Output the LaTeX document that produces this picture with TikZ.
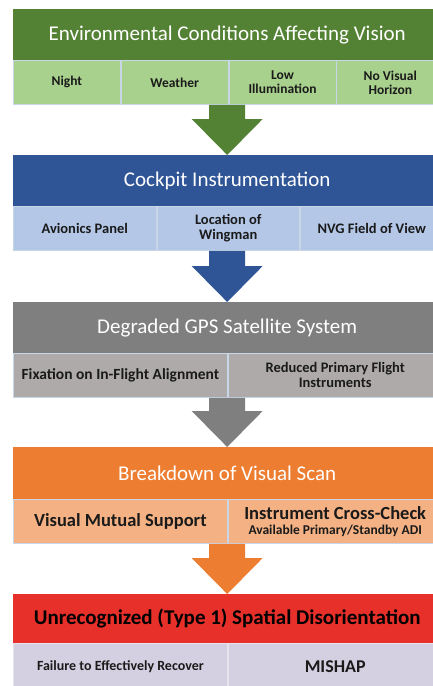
\documentclass[tikz,border=0pt]{standalone}
\usepackage{fontspec}
\setmainfont{Carlito}
\usetikzlibrary{calc}
\definecolor{gD}{HTML}{548235}
\definecolor{gL}{HTML}{A9D18E}
\definecolor{bD}{HTML}{2F5597}
\definecolor{bL}{HTML}{B4C7E7}
\definecolor{yD}{HTML}{7F7F7F}
\definecolor{yL}{HTML}{AEAAAA}
\definecolor{oD}{HTML}{ED7D31}
\definecolor{oL}{HTML}{F4B183}
\definecolor{rD}{HTML}{E8302A}
\definecolor{rL}{HTML}{D5D0E1}
\definecolor{edgec}{HTML}{C9D6E8}
\definecolor{txt}{HTML}{1A1A1A}
\tikzset{
  hdr/.style={rectangle, anchor=north west, inner sep=0pt, minimum width=428pt,
    minimum height=51pt, text=white, font=\fontsize{21}{24}\selectfont},
  cell/.style={rectangle, anchor=north west, inner sep=0pt, draw=edgec, line width=0.8pt,
    minimum height=44pt, align=center, text=txt},
  fA/.style={font=\bfseries\fontsize{13.5}{14}\selectfont},
  fB/.style={font=\bfseries\fontsize{14.5}{15}\selectfont},
  fC/.style={font=\bfseries\fontsize{18.5}{20}\selectfont},
  fD/.style={font=\bfseries\fontsize{14}{15}\selectfont},
}
\newcommand{\flowarrow}[3]{%
  \fill[#1] let \p1=(#2), \p2=(#3) in
    (\x2-18pt,\y1) -- (\x2+18pt,\y1) -- (\x2+18pt,\y2+36pt) -- (\x2+35.5pt,\y2+36pt)
    -- (\x2,\y2) -- (\x2-35.5pt,\y2+36pt) -- (\x2-18pt,\y2+36pt) -- cycle;}
\begin{document}
\begin{tikzpicture}[x=1pt,y=-1pt]
\useasboundingbox (0,0) rectangle (432,686);
\fill[white] (0,0) rectangle (432,686);

% Row 1
\node[hdr, fill=gD] (h1) at (13,9) {Environmental Conditions Affecting Vision};
\node[cell, fill=gL, fA, minimum width=107pt] (c11) at (13,60) {Night};
\node[cell, fill=gL, fA, minimum width=107pt] (c12) at (c11.north east) {Weather};
\node[cell, fill=gL, fA, minimum width=107pt] (c13) at (c12.north east) {Low\\Illumination};
\node[cell, fill=gL, fA, minimum width=107pt] (c14) at (c13.north east) {No Visual\\Horizon};

% Row 2
\node[hdr, fill=bD] (h2) at (13,155) {Cockpit Instrumentation};
\node[cell, fill=bL, fB, minimum width=142.7pt] (c21) at (13,206) {Avionics Panel};
\node[cell, fill=bL, fB, minimum width=142.7pt] (c22) at (c21.north east) {Location of\\Wingman};
\node[cell, fill=bL, fB, minimum width=142.6pt] (c23) at (c22.north east) {NVG Field of View};

% Row 3
\node[hdr, fill=yD] (h3) at (13,302) {Degraded GPS Satellite System};
\node[cell, fill=yL, font=\bfseries\fontsize{15.5}{16}\selectfont, minimum width=214pt] (c31) at (13,353) {Fixation on In-Flight Alignment};
\node[cell, fill=yL, fB, minimum width=214pt] (c32) at (c31.north east) {Reduced Primary Flight\\Instruments};

% Row 4
\node[hdr, fill=oD, minimum height=52pt] (h4) at (13,447) {Breakdown of Visual Scan};
\node[cell, fill=oL, fC, minimum width=214pt] (c41) at (13,499) {Visual Mutual Support};
\node[cell, fill=oL, minimum width=214pt, font=\bfseries] (c42) at (c41.north east)
  {{\fontsize{18.5}{17}\selectfont Instrument Cross-Check}\\[3pt]{\fontsize{13.5}{14}\selectfont Available Primary/Standby ADI}};

% Row 5
\node[hdr, fill=rD, minimum height=49pt, text=black, font=\bfseries\fontsize{21}{24}\selectfont] (h5) at (13,594) {Unrecognized (Type 1) Spatial Disorientation};
\node[cell, fill=rL, draw=rL!60!white, fD, minimum width=214pt, minimum height=46pt] (c51) at (13,643) {Failure to Effectively Recover};
\node[cell, fill=rL, draw=rL!60!white, font=\bfseries\fontsize{18}{20}\selectfont, minimum width=214pt, minimum height=46pt] (c52) at (c51.north east) {MISHAP};

% Arrows
\flowarrow{gD}{c12.south east}{h2.north}
\flowarrow{bD}{c22.south}{h3.north}
\flowarrow{yD}{c31.south east}{h4.north}
\flowarrow{oD}{c41.south east}{h5.north}
\end{tikzpicture}
\end{document}
